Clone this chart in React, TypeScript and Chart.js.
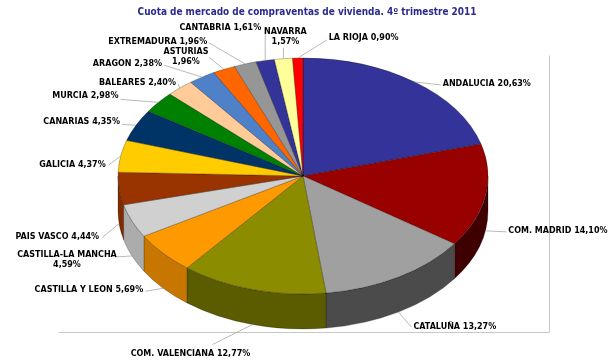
import React, { useEffect, useRef } from "react";
import { Chart, registerables } from "chart.js";

Chart.register(...registerables);

const TITLE = "Cuota de mercado de compraventas de vivienda. 4º trimestre 2011";

const regions = [
  "ANDALUCIA",
  "COM. MADRID",
  "CATALUÑA",
  "COM. VALENCIANA",
  "CASTILLA Y LEON",
  "CASTILLA-LA MANCHA",
  "PAIS VASCO",
  "GALICIA",
  "CANARIAS",
  "MURCIA",
  "BALEARES",
  "ARAGON",
  "ASTURIAS",
  "EXTREMADURA",
  "CANTABRIA",
  "NAVARRA",
  "LA RIOJA",
];

const shares = [20.63, 14.1, 13.27, 12.77, 5.69, 4.59, 4.44, 4.37, 4.35, 2.98, 2.4, 2.38, 1.96, 1.96, 1.61, 1.57, 0.9];

const sliceColors = [
  "#333399",
  "#990000",
  "#A0A0A0",
  "#8C8C00",
  "#FF9900",
  "#D0D0D0",
  "#993300",
  "#FFCC00",
  "#003366",
  "#008000",
  "#FFCC99",
  "#4F81C8",
  "#FF6600",
  "#969696",
  "#333399",
  "#FFFF99",
  "#FF0000",
];

// layout of the data labels (style only): leader end offset from slice anchor, text offset, alignment, line break
const labelLayout = [
  { ex: 26, ey: 3, align: "left", tx: 2, ty: -1, split: false },
  { ex: 21, ey: 1, align: "left", tx: 2, ty: -1, split: false },
  { ex: 13, ey: 15, align: "left", tx: 2, ty: 0, split: false },
  { ex: -40, ey: 20, align: "center", tx: -22, ty: 9, split: false },
  { ex: -18, ey: 3, align: "right", tx: -2, ty: -1, split: false },
  { ex: -17, ey: 1, align: "center", tx: -48, ty: 2.5, split: true },
  { ex: -17, ey: 14, align: "right", tx: -3, ty: -1, split: false },
  { ex: -12, ey: 9, align: "right", tx: -3, ty: 0, split: false },
  { ex: -14, ey: -1, align: "right", tx: -2, ty: -2, split: false },
  { ex: -38, ey: -3, align: "right", tx: -2, ty: -3, split: false },
  { ex: -2, ey: -4, align: "right", tx: -2, ty: -1, split: false },
  { ex: -38, ey: -12, align: "right", tx: -2, ty: -1, split: false },
  { ex: -15, ey: -12, align: "center", tx: -23, ty: 0, split: true },
  { ex: -36, ey: -21, align: "right", tx: -2, ty: -1, split: false },
  { ex: 0, ey: -32, align: "right", tx: -4, ty: -1, split: false },
  { ex: 0, ey: -11, align: "center", tx: 2, ty: -11, split: true },
  { ex: 29, ey: -18, align: "left", tx: 2, ty: -2, split: false },
];

const TILT = 118 / 185;
const DEPTH = 35;

function shade(hex: string, f: number) {
  const n = parseInt(hex.slice(1), 16);
  const r = Math.round(((n >> 16) & 255) * f);
  const g = Math.round(((n >> 8) & 255) * f);
  const b = Math.round((n & 255) * f);
  return `rgb(${r},${g},${b})`;
}

function fmt(v: number) {
  return v.toFixed(2).replace(".", ",") + "%";
}

const pie3d = {
  id: "pie3d",
  beforeDraw(chart: any) {
    const ctx = chart.ctx;
    ctx.save();
    ctx.lineWidth = 1;
    ctx.strokeStyle = "#C8C8C8";
    ctx.beginPath();
    ctx.moveTo(549.5, 55.5);
    ctx.lineTo(549.5, 332.5);
    ctx.lineTo(58.5, 332.5);
    ctx.stroke();
    ctx.restore();
  },
  beforeDatasetsDraw(chart: any) {
    const ctx = chart.ctx;
    const meta = chart.getDatasetMeta(0);
    const a0 = meta.data[0];
    const cx = a0.x;
    const cy = a0.y;
    ctx.save();
    ctx.translate(cx, cy);
    ctx.scale(1, TILT);
    ctx.translate(-cx, -cy);
    const D = DEPTH / TILT;
    meta.data.forEach((arc: any, i: number) => {
      const p = arc.getProps(["startAngle", "endAngle", "outerRadius"], true);
      const s = Math.max(p.startAngle, 0);
      const e = Math.min(p.endAngle, Math.PI);
      if (e <= s) return;
      const mid = (s + e) / 2;
      const t = (1 - Math.cos(mid)) / 2; // 0 right, 1 left
      const f = 0.4 + 0.45 * Math.pow(t, 1.3);
      const r = p.outerRadius;
      ctx.beginPath();
      ctx.arc(cx, cy, r, s, e, false);
      ctx.arc(cx, cy + D, r, e, s, true);
      ctx.closePath();
      ctx.fillStyle = shade(sliceColors[i], f);
      ctx.fill();
      ctx.lineWidth = 0.8;
      ctx.strokeStyle = "rgba(0,0,0,0.35)";
      ctx.stroke();
    });
  },
  afterDatasetsDraw(chart: any) {
    chart.ctx.restore();
  },
  afterDraw(chart: any) {
    const ctx = chart.ctx;
    const meta = chart.getDatasetMeta(0);
    ctx.save();
    // title, fitted to the reference width
    ctx.font = 'bold 10px "DejaVu Sans Condensed", "DejaVu Sans"';
    const w = ctx.measureText(TITLE).width;
    const size = (10 * 339) / w;
    ctx.font = `bold ${size.toFixed(2)}px "DejaVu Sans Condensed", "DejaVu Sans"`;
    ctx.fillStyle = "#2A2A8E";
    ctx.textAlign = "center";
    ctx.textBaseline = "middle";
    ctx.fillText(TITLE, 307, 12);

    ctx.font = 'bold 8px "DejaVu Sans"';
    ctx.fillStyle = "#000";
    meta.data.forEach((arc: any, i: number) => {
      const p = arc.getProps(["x", "y", "startAngle", "endAngle", "outerRadius"], true);
      const mid = (p.startAngle + p.endAngle) / 2;
      const ax = p.x + p.outerRadius * Math.cos(mid);
      let ay = p.y + p.outerRadius * TILT * Math.sin(mid);
      if (Math.sin(mid) > 0) ay += DEPTH;
      const L = labelLayout[i];
      const exx = ax + L.ex;
      const eyy = ay + L.ey;
      ctx.strokeStyle = "#A8A8A8";
      ctx.lineWidth = 0.8;
      ctx.beginPath();
      ctx.moveTo(ax, ay);
      ctx.lineTo(exx, eyy);
      ctx.stroke();
      ctx.textAlign = L.align;
      const txx = exx + L.tx;
      const tyy = eyy + L.ty;
      if (L.split) {
        ctx.fillText(regions[i], txx, tyy - 5);
        ctx.fillText(fmt(shares[i]), txx, tyy + 5);
      } else {
        ctx.fillText(regions[i] + " " + fmt(shares[i]), txx, tyy);
      }
    });
    ctx.restore();
  },
};

export default function App() {
  const ref = useRef<HTMLCanvasElement | null>(null);
  useEffect(() => {
    if (!ref.current) return;
    const chart = new Chart(ref.current, {
      type: "pie",
      data: {
        labels: regions,
        datasets: [
          {
            data: shares,
            backgroundColor: sliceColors,
            borderColor: "rgba(0,0,0,0.4)",
            borderWidth: 0.8,
            radius: 185,
            clip: false,
          } as any,
        ],
      },
      options: {
        responsive: false,
        animation: false,
        events: [],
        layout: { padding: { left: 0, right: 4, top: 0, bottom: 9 } },
        plugins: {
          legend: { display: false },
          tooltip: { enabled: false },
          title: { display: false },
        },
      } as any,
      plugins: [pie3d],
    });
    return () => chart.destroy();
  }, []);
  return (
    <div style={{ position: "absolute", left: 0, top: 0, width: 610, height: 361, background: "#fff" }}>
      <canvas ref={ref} width={610} height={361} />
    </div>
  );
}
